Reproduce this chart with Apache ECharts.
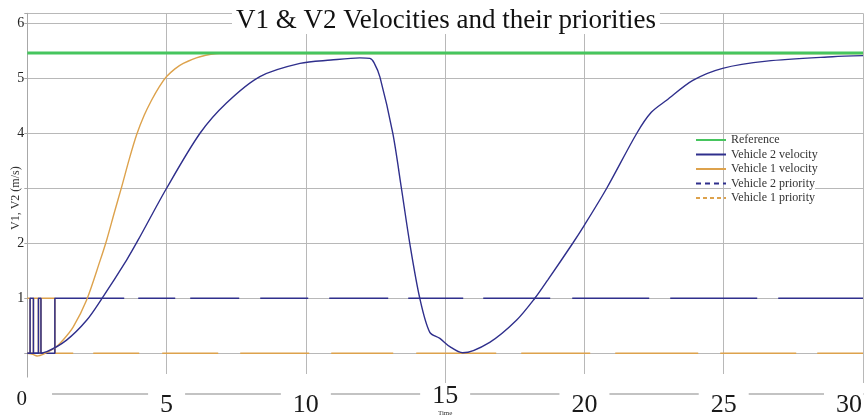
<!DOCTYPE html>
<html>
<head>
<meta charset="utf-8">
<title>V1 & V2 Velocities and their priorities</title>
<script src="https://cdn.jsdelivr.net/npm/echarts@6/dist/echarts.min.js"></script>
<style>
  html, body { margin: 0; padding: 0; background: #fff; }
  #chart { width: 866px; height: 418px; }
</style>
</head>
<body>
<div id="chart"></div>
<script>
// values: [time, value]
const referenceSpeed = [[0, 5.46], [30, 5.46]]

const v1Velocity = [
  [0, 0], [0.2, -0.02], [0.35, -0.05], [0.6, -0.01], [1.0, 0.1], [1.3, 0.25],
  [1.65, 0.48], [2.13, 0.97], [2.61, 1.68], [2.85, 2.06], [3.12, 2.55], [3.39, 3.03],
  [3.66, 3.53], [3.93, 3.98], [4.2, 4.33], [4.46, 4.6], [4.73, 4.84], [5.0, 5.03],
  [5.3, 5.17], [5.6, 5.27], [6.2, 5.39], [6.9, 5.45], [30, 5.45]
]

const v2Velocity = [
  [0, 0], [0.35, 0], [0.7, 0.03], [1.41, 0.24], [2.13, 0.6], [2.67, 0.99],
  [3.57, 1.7], [3.98, 2.06], [5.0, 3.0], [6.2, 4.0], [7.15, 4.55], [8.35, 5.03],
  [9.79, 5.27], [10.9, 5.33], [11.94, 5.37], [12.3, 5.36], [12.45, 5.28], [12.66, 5.02],
  [13.12, 4.0], [13.43, 3.0], [13.73, 2.0], [14.09, 1.0], [14.45, 0.38], [14.81, 0.27],
  [15.17, 0.12], [15.63, 0.01], [16.6, 0.2], [17.56, 0.6], [18.22, 1.0], [18.68, 1.33],
  [19.58, 2.0], [20.0, 2.33], [20.8, 3.0], [21.88, 4.0], [22.4, 4.38], [22.95, 4.6],
  [23.89, 4.96], [24.96, 5.18], [26.54, 5.31], [28.91, 5.39], [30, 5.41]
]

// priorities switch a few times during the first second
const v2Priority = [[0, 0], [0.1, 1], [0.22, 0], [0.4, 1], [0.49, 0], [0.99, 1], [30, 1]]
const v1Priority = [[0, 1], [0.1, 0], [0.22, 1], [0.4, 0], [0.49, 1], [0.99, 0], [30, 0]]

const yTickLabels = [1, 2, 4, 5, 6]

const serif = 'Liberation Serif'
const blue = '#2f2f8c'
const orange = '#dda24c'
const green = '#46c55e'
const gridColor = '#b8b8b8'

const chart = echarts.init(document.getElementById('chart'))

// x tick labels sit on the axis line, white boxes cut the line around them.
// "15" is set higher than the others, with the tiny "Time" under it
const base = { fontFamily: serif, fontSize: 26, lineHeight: 26, color: '#1a1a1a', backgroundColor: '#fff' }
const xLabelRich = {
  s: { ...base, fontSize: 21, lineHeight: 21, padding: [11, 25, 0, 14] },
  n: { ...base, padding: [18, 12, 0, 12] },
  m: { ...base, padding: [0, 12, 0, 12] },
  e: { ...base, padding: [18, 1, 0, 12] }
}
const xLabelFormat = v => {
  if (v === 0) return '{s|0}'
  if (v === 15) return '{m|15}'
  if (v === 30) return '{e|30}'
  return '{n|' + v + '}'
}

chart.setOption({
  animation: false,
  title: {
    text: 'V1 & V2 Velocities and their priorities',
    left: 232,
    top: 7,
    padding: [0, 4],
    backgroundColor: '#fff',
    textStyle: { fontFamily: serif, fontSize: 27, fontWeight: 'normal', color: '#111' }
  },
  legend: {
    orient: 'vertical',
    left: 690,
    top: 129,
    itemWidth: 30,
    itemHeight: 10,
    itemGap: 2.5,
    itemStyle: { opacity: 0 },
    textStyle: { fontFamily: serif, fontSize: 12, color: '#333', backgroundColor: '#fff' },
    data: [
      { name: 'Reference' },
      { name: 'Vehicle 2 velocity' },
      { name: 'Vehicle 1 velocity' },
      { name: 'Vehicle 2 priority', lineStyle: { type: [5, 4], width: 2 } },
      { name: 'Vehicle 1 priority', lineStyle: { type: [4, 3], width: 2 } }
    ]
  },
  grid: { left: 27.3, right: 3, top: 13.3, bottom: 35, containLabel: false, outerBoundsMode: 'none' },
  xAxis: {
    type: 'value',
    min: 0,
    max: 30,
    interval: 5,
    offset: 11,
    name: 'Time',
    nameLocation: 'middle',
    nameGap: 16,
    nameMoveOverlap: false,
    nameTextStyle: { fontFamily: serif, fontSize: 7, color: '#333' },
    axisLine: { show: true, onZero: false, lineStyle: { color: '#b0b0b0', width: 1.5 } },
    axisTick: { show: false },
    axisLabel: {
      margin: -11,
      alignMaxLabel: 'right',
      formatter: xLabelFormat,
      rich: xLabelRich
    },
    splitLine: { lineStyle: { color: gridColor, width: 1 } }
  },
  yAxis: {
    type: 'value',
    min: -0.54,
    max: 6.18,
    minInterval: 1,
    maxInterval: 1,
    name: 'V1, V2 (m/s)',
    nameLocation: 'middle',
    nameGap: 5,
    nameMoveOverlap: false,
    nameTextStyle: { fontFamily: serif, fontSize: 12, color: '#333', backgroundColor: '#fff' },
    axisLine: { show: true, onZero: false, lineStyle: { color: '#a8a8a8' } },
    axisTick: { show: true, length: 3, lineStyle: { color: '#a8a8a8' } },
    axisLabel: {
      margin: 3,
      fontFamily: serif,
      fontSize: 14,
      color: '#222',
      formatter: v => (yTickLabels.includes(v) ? String(v) : '')
    },
    splitLine: { showMinLine: false, lineStyle: { color: gridColor, width: 1 } }
  },
  series: [
    {
      name: 'Vehicle 1 priority',
      type: 'line',
      step: 'end',
      data: v1Priority,
      symbol: 'none',
      lineStyle: {
        color: orange,
        width: 1.5,
        type: [321, 20, 46, 23, 56, 22, 69, 22, 62, 23, 80, 25, 69, 25, 83, 22, 76, 21, 60]
      },
      itemStyle: { color: orange }
    },
    {
      name: 'Vehicle 2 priority',
      type: 'line',
      step: 'end',
      data: v2Priority,
      symbol: 'none',
      lineStyle: {
        color: blue,
        width: 1.5,
        type: [372, 14, 37, 15, 49, 21, 48, 21, 59, 20, 55, 20, 67, 22, 77, 21, 87, 21, 120]
      },
      itemStyle: { color: blue }
    },
    {
      name: 'Vehicle 1 velocity',
      type: 'line',
      data: v1Velocity,
      smooth: 0.3,
      symbol: 'none',
      lineStyle: { color: orange, width: 1.4 },
      itemStyle: { color: orange }
    },
    {
      name: 'Vehicle 2 velocity',
      type: 'line',
      data: v2Velocity,
      smooth: 0.3,
      symbol: 'none',
      lineStyle: { color: blue, width: 1.4 },
      itemStyle: { color: blue }
    },
    {
      name: 'Reference',
      type: 'line',
      data: referenceSpeed,
      symbol: 'none',
      lineStyle: { color: green, width: 3 },
      itemStyle: { color: green }
    }
  ]
})
</script>
</body>
</html>
